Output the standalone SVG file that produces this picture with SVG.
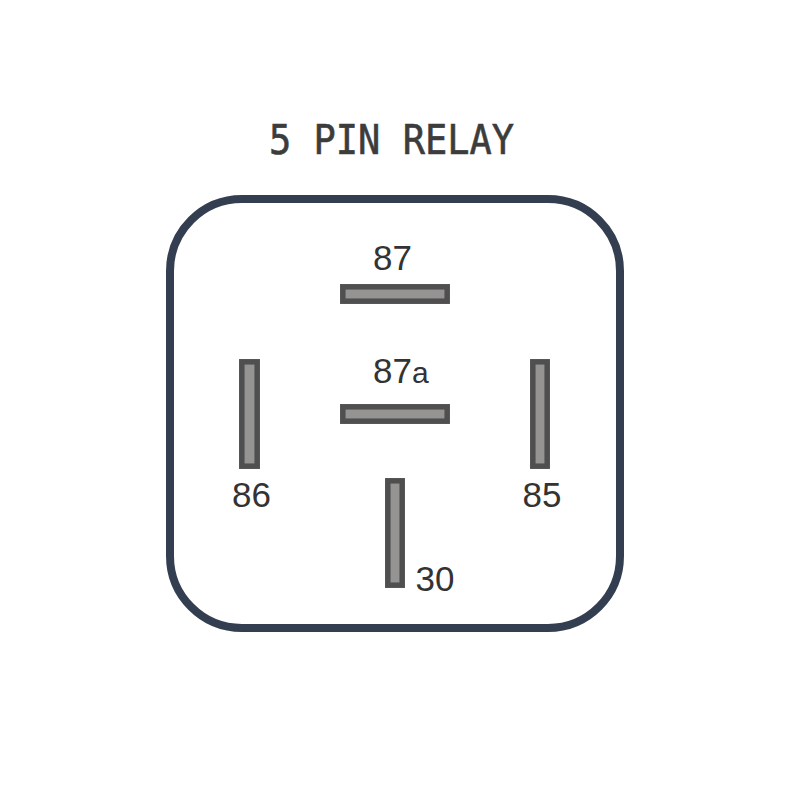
<svg xmlns="http://www.w3.org/2000/svg" width="801" height="804" viewBox="0 0 801 804">
<style>
.pin{fill:#969393;stroke:#4f4f4f;stroke-width:5.500}
.t{font-family:"Liberation Sans",Arial,sans-serif;font-size:35px;fill:#333}
</style>
<rect width="801" height="804" fill="#fff"/>
<text x="269" y="154" textLength="245" lengthAdjust="spacingAndGlyphs" font-family="'DejaVu Sans Mono','Liberation Mono',monospace" font-size="41" fill="#3c3c3c" stroke="#3c3c3c" stroke-width="0.600">5 PIN RELAY</text>
<g id="relay-body"><rect x="170" y="199" width="450" height="429" rx="72" ry="72" fill="#fff" stroke="#333f50" stroke-width="8"/></g>
<g id="pin-87"><rect class="pin" x="342.800" y="286.800" width="104.400" height="14.400"/><text class="t" x="373" y="270">87</text></g>
<g id="pin-87a"><rect class="pin" x="342.800" y="406.800" width="104.400" height="14.400"/><text class="t" x="373" y="383">87<tspan font-size="30">a</tspan></text></g>
<g id="pin-86"><rect class="pin" x="241.800" y="361.800" width="15.400" height="104.400"/><text class="t" x="232" y="507">86</text></g>
<g id="pin-85"><rect class="pin" x="532.800" y="361.800" width="14.400" height="104.400"/><text class="t" x="522.500" y="507">85</text></g>
<g id="pin-30"><rect class="pin" x="387.800" y="480.800" width="14.400" height="104.400"/><text class="t" x="415.500" y="591">30</text></g>
<g id="connectors"/>
</svg>
